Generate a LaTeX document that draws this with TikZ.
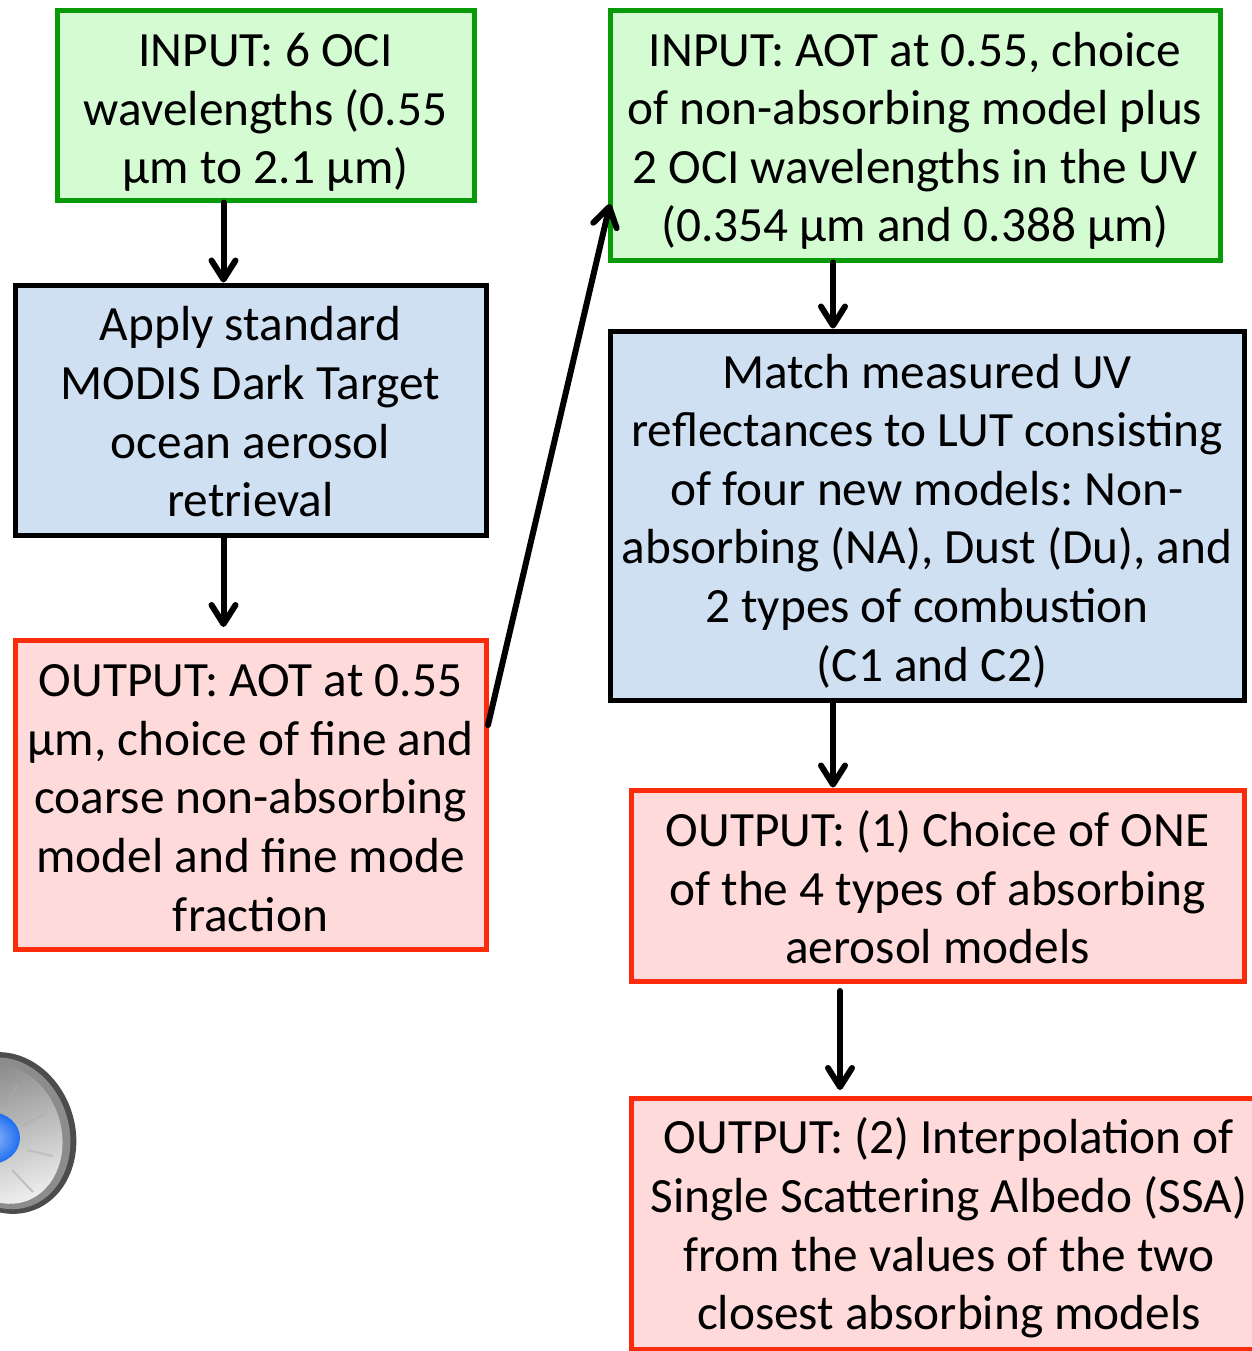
\documentclass[tikz,border=0pt]{standalone}
\usepackage{fontspec}
\setmainfont{Carlito}
\usetikzlibrary{arrows.meta}
\newlength{\myUnit}
\setlength{\myUnit}{0.5pt}
\newcommand{\myDrop}[1]{\rule{0pt}{#1\myUnit}}
\definecolor{myGreenFill}{HTML}{D5FBD3}
\definecolor{myGreenLine}{HTML}{089A08}
\definecolor{myBlueFill}{HTML}{CFE0F2}
\definecolor{myRedFill}{HTML}{FEDADA}
\definecolor{myRedLine}{HTML}{FB2C0C}
\definecolor{myCone}{HTML}{1E6EF0}

\begin{document}
\begin{tikzpicture}[x=\myUnit, y=-\myUnit,
                    my box/.style={
                      line width=5\myUnit, inner sep=0, align=center,
                      font=\fontsize{24.65}{29.3}\selectfont\frenchspacing},
                    my input/.style={
                      my box, draw=myGreenLine, fill=myGreenFill},
                    my step/.style={
                      my box, draw=black, fill=myBlueFill},
                    my output/.style={
                      my box, draw=myRedLine, fill=myRedFill},
                    my arrow/.style={
                      line width=6\myUnit, draw=black, line cap=round,
                      -{Straight Barb[length=9.5pt, width=12pt, round]}}]

\clip (0,0) rectangle (1252,1351);

% left column
\node [my input, minimum width=417\myUnit, minimum height=190\myUnit]
  (inputA) at (265.5,105)
  {\myDrop{48}INPUT: 6 OCI\\wavelengths (0.55\\µm to 2.1 µm)};
\node [my step, minimum width=471\myUnit, minimum height=250\myUnit]
  (stepA) at (250.5,410)
  {\myDrop{38}Apply standard\\MODIS Dark Target\\ocean aerosol\\retrieval};
\node [my output, minimum width=471\myUnit, minimum height=309\myUnit]
  (outputA) at (250.5,794.5)
  {\myDrop{39}OUTPUT: AOT at 0.55\\µm, choice of fine and\\coarse non-absorbing\\model and fine mode\\fraction};

% right column
\node [my input, minimum width=610\myUnit, minimum height=250\myUnit]
  (inputB) at (915,135)
  {\myDrop{46}INPUT: AOT at 0.55, choice\\of non-absorbing model plus\\2 OCI wavelengths in the UV\\(0.354 µm and 0.388 µm)};
\node [my step, minimum width=634\myUnit, minimum height=369\myUnit]
  (stepB) at (927,515.5)
  {\myDrop{45}Match measured UV\\reflectances to LUT consisting\\of four new models: Non-\\absorbing (NA), Dust (Du), and\\2 types of combustion\\\hspace{5pt}(C1 and C2)};
\node [my output, minimum width=613\myUnit, minimum height=191\myUnit]
  (outputB) at (937.5,885.5)
  {\myDrop{40}OUTPUT: (1) Choice of ONE\\of the 4 types of absorbing\\aerosol models};
\node [my output, minimum width=636\myUnit, minimum height=251\myUnit]
  (outputC) at (949,1223.5)
  {\myDrop{45}OUTPUT: (2) Interpolation of\\Single Scattering Albedo (SSA)\\from the values of the two\\closest absorbing models};

% loudspeaker
\begin{scope}[shift={(6,1133)}, rotate=18]
  \fill [black!70] (0,0) ellipse [x radius=69, y radius=82];
  \fill [black!45] (-1,0) ellipse [x radius=64, y radius=77];
  \shade [top color=black!45, bottom color=black!5, shading angle=18]
    (-3,0) ellipse [x radius=58, y radius=71];
\end{scope}
\draw [black!35, line width=2\myUnit] (17,1085) -- (6,1107);
\draw [black!30, line width=2\myUnit] (22,1126) -- (47,1113);
\draw [black!25, line width=2\myUnit] (27,1150) -- (53,1156);
\draw [black!25, line width=2\myUnit] (12,1170) -- (33,1192);
\shade [inner color=myCone!45!white, outer color=myCone]
  (-10,1138) ellipse [x radius=30, y radius=26];

% arrows
\coordinate (railA) at (223.5,0);
\coordinate (railB) at (833,0);
\coordinate (startD) at (488,725);
\coordinate (endD) at (610,204);
\coordinate (startE) at (840,991);
\coordinate (endE) at (840,1090);
\coordinate (endB) at (223.5,627);

\foreach \myFrom/\myTo/\myRail in {inputA/stepA/railA,
                                   inputB/stepB/railB, stepB/outputB/railB}
{
  \draw [my arrow] (\myRail |- \myFrom.south) -- (\myRail |- \myTo.north);
}
\draw [my arrow] (railA |- stepA.south) -- (endB);
\draw [my arrow] (startD) -- (endD);
\draw [my arrow] (startE) -- (endE);
\end{tikzpicture}
\end{document}
